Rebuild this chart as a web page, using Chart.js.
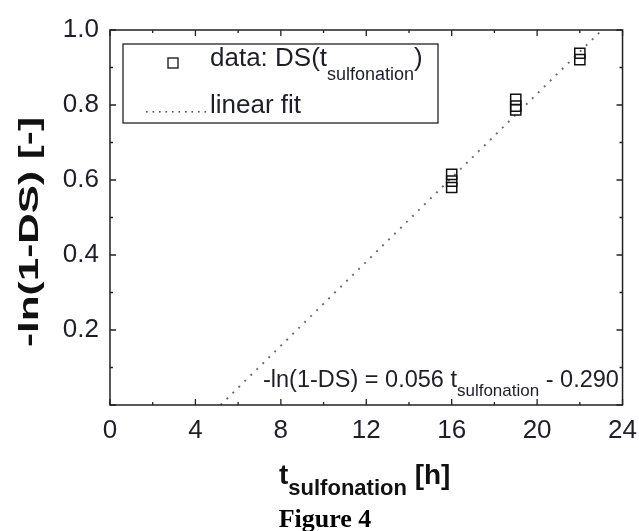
<!DOCTYPE html>
<html><head><meta charset="utf-8">
<script src="https://cdn.jsdelivr.net/npm/chart.js@4"></script>
<style>html,body{margin:0;padding:0;background:#fff}#c{display:block}</style>
</head><body>
<canvas id="c" width="639" height="531"></canvas>
<script>
// ---- data ----
const xTickValues = [0, 4, 8, 12, 16, 20, 24];
const yTickValues = [0.2, 0.4, 0.6, 0.8, 1.0];
const tSulfonation = [16, 16, 16, 19, 19, 19, 22, 22];
const lnDS = [0.615, 0.597, 0.580, 0.815, 0.797, 0.787, 0.938, 0.921];
const fitSlope = 0.056;
const fitIntercept = -0.290;
const fitYRange = [0, 1.0];

const fitPoints = fitYRange.map(y => ({x: (y - fitIntercept) / fitSlope, y: y}));
const dataPoints = tSulfonation.map((t, i) => ({x: t, y: lnDS[i]}));

const SANS = '"Liberation Sans", Arial, sans-serif';
const TXT = '#1e1e28';

function drawSub(ctx, x, y, parts) {
  let cx = x;
  for (const [t, f, dy] of parts) {
    ctx.font = f;
    ctx.fillText(t, cx, y + dy);
    cx += ctx.measureText(t).width;
  }
  return cx;
}

const framePlugin = {
  id: 'frame',
  afterDraw(chart) {
    const ctx = chart.ctx, a = chart.chartArea;
    const xs = chart.scales.x, ys = chart.scales.y;
    ctx.save();
    ctx.strokeStyle = '#222';
    ctx.lineWidth = 1.5;
    ctx.strokeRect(a.left, a.top, a.right - a.left, a.bottom - a.top);
    ctx.lineWidth = 1.3;
    ctx.beginPath();
    for (let v = xs.min; v <= xs.max + 1e-9; v += 2) {
      const px = xs.getPixelForValue(v);
      const L = (Math.round(v) % 4 === 0) ? 6 : 3;
      ctx.moveTo(px, a.bottom); ctx.lineTo(px, a.bottom - L);
      ctx.moveTo(px, a.top); ctx.lineTo(px, a.top + L);
    }
    for (let k = 0; k <= 10; k++) {
      const v = ys.min + k * 0.1;
      const py = ys.getPixelForValue(v);
      const L = (k % 2 === 0) ? 6 : 3;
      ctx.moveTo(a.left, py); ctx.lineTo(a.left + L, py);
      ctx.moveTo(a.right, py); ctx.lineTo(a.right - L, py);
    }
    ctx.stroke();

    // legend box
    ctx.lineWidth = 1.3;
    ctx.strokeStyle = '#222';
    ctx.strokeRect(123, 44, 315, 79);
    ctx.lineWidth = 1.4;
    ctx.strokeRect(168, 58, 10, 10);
    ctx.fillStyle = TXT;
    ctx.textBaseline = 'alphabetic';
    ctx.textAlign = 'left';
    drawSub(ctx, 210, 66, [['data: DS(t', '26px ' + SANS, 0], ['sulfonation', '18px ' + SANS, 14], [')', '26px ' + SANS, 0]]);
    ctx.font = '26px ' + SANS;
    ctx.fillText('linear fit', 210, 113);
    ctx.fillStyle = '#555';
    for (let x = 146; x <= 205; x += 6.5) {
      ctx.fillRect(x, 111, 1.6, 1.6);
    }

    // equation
    ctx.fillStyle = TXT;
    drawSub(ctx, 263, 387, [['-ln(1-DS) = 0.056 t', '23.5px ' + SANS, 0], ['sulfonation', '17px ' + SANS, 9], [' - 0.290', '23.5px ' + SANS, 0]]);

    // x title
    ctx.fillStyle = '#111';
    drawSub(ctx, 279, 484, [['t', 'bold 28px ' + SANS, 0], ['sulfonation', 'bold 22px ' + SANS, 11], [' [h]', 'bold 28px ' + SANS, 0]]);

    // y title
    ctx.save();
    ctx.translate(38, 232);
    ctx.rotate(-Math.PI / 2);
    ctx.font = 'bold 28px ' + SANS;
    const w = ctx.measureText('-ln(1-DS) [-]').width;
    ctx.scale(230 / w, 1);
    ctx.textAlign = 'center';
    ctx.fillText('-ln(1-DS) [-]', 0, 0);
    ctx.restore();

    // figure caption
    ctx.fillStyle = '#000';
    ctx.font = 'bold 26px "Liberation Serif", "Times New Roman", serif';
    ctx.textAlign = 'center';
    ctx.fillText('Figure 4', 325, 527);
    ctx.restore();
  }
};

new Chart(document.getElementById('c'), {
  type: 'scatter',
  data: {
    datasets: [
      {
        label: 'data',
        data: dataPoints,
        pointStyle: 'rect',
        pointRadius: 7.2,
        pointBorderWidth: 1.5,
        pointBorderColor: '#111',
        pointBackgroundColor: 'rgba(0,0,0,0)',
        showLine: false
      },
      {
        label: 'fit',
        data: fitPoints,
        showLine: true,
        borderColor: '#6a6a6a',
        borderWidth: 1.9,
        borderDash: [1.9, 6.5],
        pointRadius: 0,
        fill: false
      }
    ]
  },
  options: {
    responsive: false,
    animation: false,
    devicePixelRatio: 1,
    layout: {padding: {top: 30, right: 16, left: 0, bottom: 0}},
    plugins: {legend: {display: false}, tooltip: {enabled: false}},
    scales: {
      x: {
        type: 'linear', min: 0, max: 24,
        afterFit: s => { s.height = 126; },
        afterBuildTicks: s => { s.ticks = xTickValues.map(v => ({value: v})); },
        grid: {display: false},
        border: {display: false},
        ticks: {font: {size: 26, family: SANS}, color: TXT, padding: 2, maxRotation: 0, autoSkip: false,
                callback: v => String(v)}
      },
      y: {
        type: 'linear', min: 0, max: 1.0,
        afterFit: s => { s.width = 110; },
        afterBuildTicks: s => { s.ticks = yTickValues.map(v => ({value: v})); },
        grid: {display: false},
        border: {display: false},
        ticks: {font: {size: 26, family: SANS}, color: TXT, padding: 3, autoSkip: false,
                callback: v => v.toFixed(1)}
      }
    }
  },
  plugins: [framePlugin]
});
</script>
</body></html>
